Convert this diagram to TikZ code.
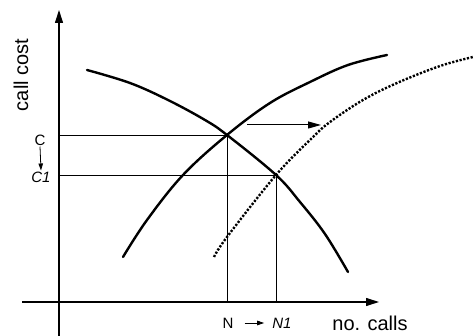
\documentclass[tikz,border=0pt]{standalone}
\usepackage{fontspec}
\setmainfont{Liberation Sans}
\usetikzlibrary{arrows.meta}
\begin{document}
\begin{tikzpicture}[x=1pt,y=-1pt,
  axis/.style={line width=1.1pt,-{Triangle[length=13pt,width=8pt]}},
  guide/.style={line width=0.9pt},
  curve/.style={line width=2.4pt,line cap=round},
  shifted/.style={line width=2.4pt,dash pattern=on 2.2pt off 1.6pt},
  small/.style={font=\fontsize{15}{16}\selectfont,inner sep=1pt},
  big/.style={font=\fontsize{20}{21}\selectfont,inner sep=0pt},
  shiftarrow/.style={line width=1pt,-{Triangle[length=13pt,width=7pt]}},
  tiny/.style={line width=0.8pt,-{Triangle[length=7pt,width=4.5pt]}}]
\useasboundingbox (0,0) rectangle (474,336);
% axes
\coordinate (ybot) at (59,336);
\coordinate (ytop) at (59,10);
\coordinate (xleft) at (22,302);
\coordinate (xright) at (379,302);
\draw[axis] (ybot) -- (ytop);
\draw[axis] (xleft) -- (xright);
% equilibrium points
\coordinate (P) at (227,135);
\coordinate (Q) at (276,175);
\coordinate (Cy) at (59,135);
\coordinate (C1y) at (59,175);
\coordinate (Nx) at (227,302);
\coordinate (N1x) at (276,302);
\draw[guide] (Cy) -- (P) -- (Nx);
\draw[guide] (C1y) -- (Q) -- (N1x);
% falling curve
\draw[curve] plot[smooth,tension=0.6] coordinates {(87,70) (130,83) (168,100) (205,120) (227,135) (276,175) (300,202) (325,234) (348,272)};
% rising curve
\draw[curve] plot[smooth,tension=0.6] coordinates {(123,257) (147,220) (183,175) (227,135) (270,103) (310,82) (348,65) (387,55)};
% shifted curve
\draw[shifted] plot[smooth,tension=0.6] coordinates {(214,257) (227,237) (276,175) (312,138) (330,122) (363,100) (397,83) (440,66) (473,57)};
% shift arrow
\coordinate (sa) at (247,125);
\coordinate (sb) at (321,125);
\draw[shiftarrow] (sa) -- (sb);
% labels
\node[big,rotate=90] (ylab) at (21,75) {call cost};
\node[big,anchor=base] (xlab) at (370,331) {no. calls};
\node[small] (C) at (40,140) {C};
\node[small] (C1) at (41,177) {\itshape C1};
\draw[tiny] (C.south) -- (C1.north);
\node[small] (N) at (228,323) {N};
\node[small] (N1) at (282,323) {\itshape N1};
\path (N.east) ++(10,0) coordinate (na);
\path (N1.west) ++(-7,0) coordinate (nb);
\draw[tiny] (na) -- (nb);
\end{tikzpicture}
\end{document}
